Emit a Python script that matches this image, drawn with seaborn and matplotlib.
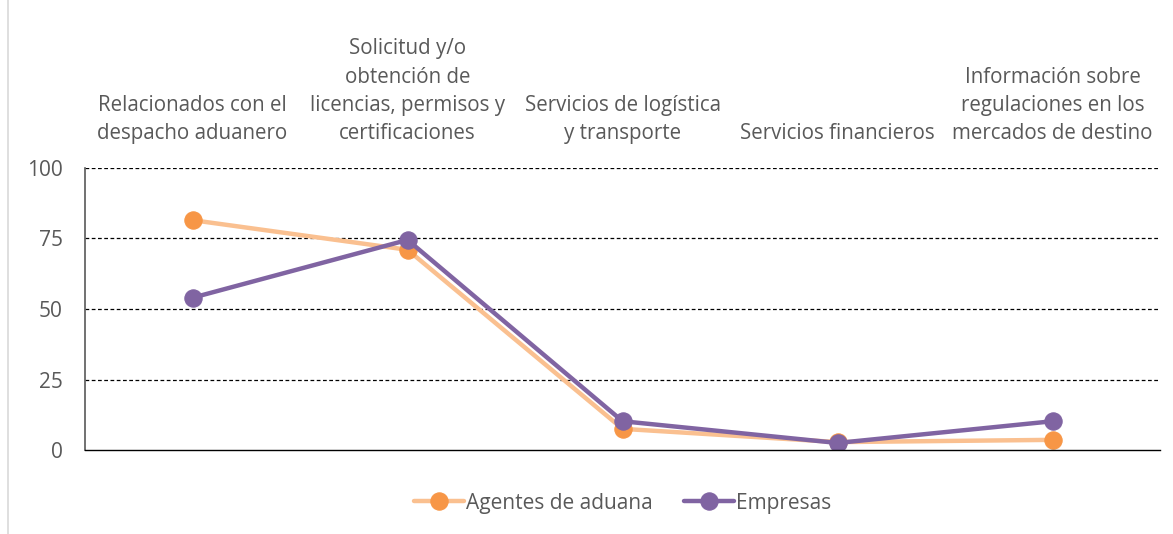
import numpy as np
import pandas as pd
import matplotlib
matplotlib.use("Agg")
import matplotlib.pyplot as plt
import seaborn as sns

categorias = [
    "Relacionados con el\ndespacho aduanero",
    "Solicitud y/o\nobtención de\nlicencias, permisos y\ncertificaciones",
    "Servicios de logística\ny transporte",
    "Servicios financieros",
    "Información sobre\nregulaciones en los\nmercados de destino",
]
agentes = [81.5, 71.0, 7.5, 2.8, 3.6]
empresas = [54.0, 74.5, 10.2, 2.5, 10.2]
y_ticks = [0, 25, 50, 75, 100]

sns.set_theme(style="white")
plt.rcParams["font.family"] = ["Open Sans", "DejaVu Sans"]
gris = "#595959"

fig = plt.figure(figsize=(11.73, 5.34), dpi=100)
ax = fig.add_axes([0.0725, 0.1573, 0.9165, 0.5281])

x = np.arange(len(categorias))
sns.lineplot(x=x, y=agentes, ax=ax, color="#FAC090", linewidth=3.2,
             marker="o", markersize=12.5, markerfacecolor="#F79646",
             markeredgecolor="#F79646", label="Agentes de aduana")
sns.lineplot(x=x, y=empresas, ax=ax, color="#8064A2", linewidth=3.2,
             marker="o", markersize=12.5, markerfacecolor="#8064A2",
             markeredgecolor="#8064A2", label="Empresas")

ax.set_xlim(-0.5, len(categorias) - 0.5)
ax.set_ylim(0, 100)
ax.set_yticks(y_ticks)
ax.set_xticks([])
ax.tick_params(axis="y", length=0, labelsize=15, labelcolor=gris, pad=16)
for v in y_ticks[1:]:
    ax.axhline(v, color="black", linestyle=(0, (3, 2)), linewidth=0.9, zorder=0)
for s in ["top", "right"]:
    ax.spines[s].set_visible(False)
ax.spines["left"].set_color(gris)
ax.spines["left"].set_linewidth(1.2)
ax.spines["bottom"].set_color("black")
ax.spines["bottom"].set_linewidth(1)

for i, c in enumerate(categorias):
    ax.text(i, 1.085, c, transform=ax.get_xaxis_transform(), ha="center",
            va="bottom", fontsize=14.8, color=gris, linespacing=1.45)

leg = ax.legend(loc="upper center", bbox_to_anchor=(0.5, -0.085), ncol=2,
                frameon=False, fontsize=15, handlelength=2.4,
                columnspacing=1.5, handletextpad=0.1)
for t in leg.get_texts():
    t.set_color(gris)

fig.add_artist(plt.Line2D([0.0068, 0.0068], [0, 1], color="#D9D9D9",
                          linewidth=1.2, transform=fig.transFigure))

fig.savefig("out.png", dpi=100)
